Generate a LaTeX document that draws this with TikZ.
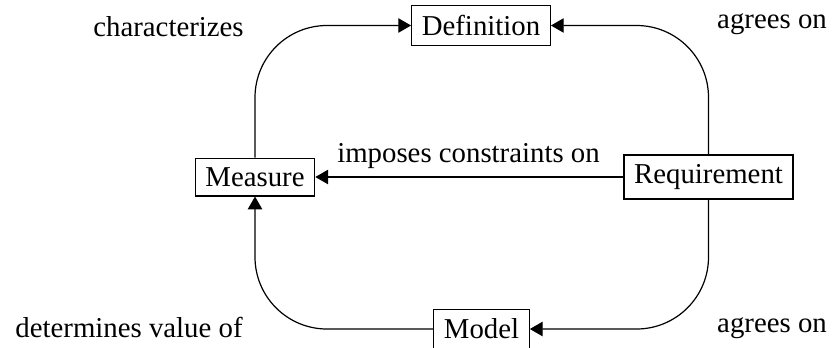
\documentclass[tikz,border=0pt]{standalone}
\usepackage{fontspec}
\setmainfont{Liberation Serif}
\usetikzlibrary{arrows.meta}

\tikzset{
  concept/.style={draw, line width=0.45pt, inner xsep=3.8pt, inner ysep=3.5pt, font=\fontsize{10.8pt}{13pt}\selectfont},
  relation/.style={font=\fontsize{10.8pt}{13pt}\selectfont, inner sep=0pt, anchor=base},
  link/.style={line width=0.45pt, -{Triangle[length=4.8pt, width=5.4pt]}},
  roundlink/.style={link, rounded corners=27pt}
}

\begin{document}
\begin{tikzpicture}[x=0.375pt, y=-0.375pt]
  \useasboundingbox (0,0) rectangle (832,347);

  % concepts
  \node[concept] (def)   at (481,25.5)  {Definition};
  \node[concept] (meas)  at (255,177)   {Measure};
  \node[concept] (req)   at (708.5,177) {Requirement};
  \node[concept] (model) at (481.5,329) {Model};

  % relations
  \draw[roundlink] (meas.north) |- (def.west);
  \draw[roundlink] (req.north) |- (def.east);
  \draw[link] (req.west) -- (meas.east);
  \draw[roundlink] (req.south) |- (model.east);
  \draw[roundlink] (model.west) -| (meas.south);

  % relation labels
  \node[relation] (lchar) at (168.5,36)  {characterizes};
  \node[relation] (lagr1) at (772,28)    {agrees on};
  \node[relation] (limp)  at (468.5,162) {imposes constraints on};
  \node[relation] (lagr2) at (772,332)   {agrees on};
  \node[relation] (ldet)  at (129,337)   {determines value of};
\end{tikzpicture}
\end{document}
